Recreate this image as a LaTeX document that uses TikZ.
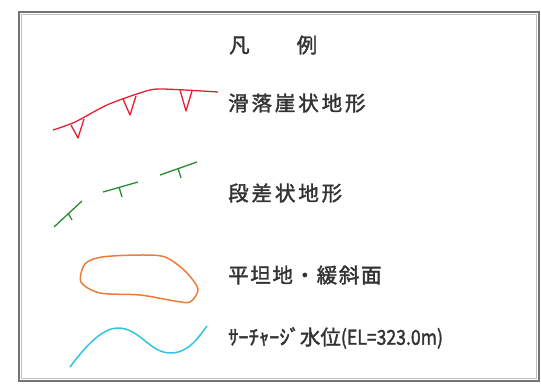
\documentclass[tikz,border=0pt]{standalone}
\usepackage{fontspec}
\newfontfamily\cjk[FakeBold=1.8]{Noto Sans CJK JP}
\definecolor{cliffred}{RGB}{230,30,50}
\definecolor{stepgreen}{RGB}{40,140,50}
\definecolor{flatorange}{RGB}{235,125,60}
\definecolor{watercyan}{RGB}{50,195,225}
\begin{document}
\begin{tikzpicture}[x=1pt,y=-1pt]
	\tikzset{legtext/.style={anchor=west,inner sep=0pt,text=black!80,font=\cjk\fontsize{20.5}{20}\selectfont}}
	\useasboundingbox (0,0) rectangle (541,383);
	\draw[black!25,line width=1.5pt] (21.5,14.5) rectangle (536.5,378.5);
	\draw[black!55,line width=2pt] (19,12) rectangle (539,381);

	\node[legtext](title) at (229,45) {凡\hspace{47pt}例};
	\node[legtext](cliff) at (228,103) {\addfontfeature{LetterSpace=14}滑落崖状地形};
	\node[legtext](step) at (228,193) {\addfontfeature{LetterSpace=14}段差状地形};
	\node[legtext](flat) at (228,275) {\addfontfeature{LetterSpace=8}平坦地・緩斜面};
	\node[legtext](water) at (228,338) {ｻｰﾁｬｰｼﾞ水位\scalebox{0.86}[1]{(EL=323.0m)}};

	% sliding cliff
	\draw[cliffred,line width=1.3pt] plot[smooth] coordinates {(53,130) (75,122) (107,105) (140,93) (160,89) (218,92)};
	\draw[cliffred,line width=1.3pt,line join=round] (71,125) -- (78,138) -- (84,119);
	\draw[cliffred,line width=1.3pt,line join=round] (123,99) -- (130,115) -- (136,96);
	\draw[cliffred,line width=1.3pt,line join=round] (180,90) -- (186,111) -- (192,91);

	% step
	\draw[stepgreen,line width=1.3pt] (54,227) -- (82,201) (68,213) -- (72,220);
	\draw[stepgreen,line width=1.3pt] (103,192) -- (138,182) (119,187) -- (122,197);
	\draw[stepgreen,line width=1.3pt] (160,175) -- (197,162) (178,168) -- (181,178);

	% flat
	\draw[flatorange,line width=1.5pt] plot[smooth cycle] coordinates {(85,264) (102,257) (140,255) (165,257) (185,271) (198,289) (190,302) (175,301) (140,295) (100,293) (81,282)};

	% water level
	\draw[watercyan,line width=1.5pt] (70,367) .. controls (90,340) and (105,328) .. (118,328) .. controls (140,328) and (150,354) .. (172,353) .. controls (190,352) and (200,335) .. (207,326);
\end{tikzpicture}
\end{document}
